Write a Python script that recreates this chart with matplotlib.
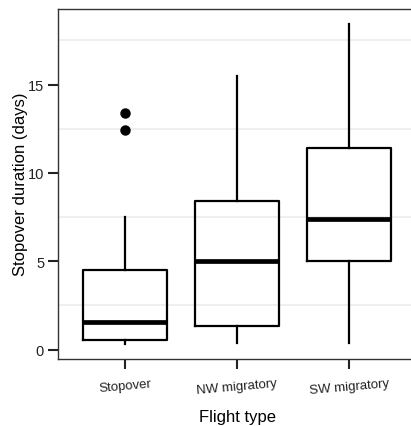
import matplotlib
matplotlib.use('Agg')
from matplotlib import pyplot as plt

plt.rcParams['font.family'] = ['Liberation Sans', 'DejaVu Sans']

categories = ['Stopover', 'NW migratory', 'SW migratory']
whisker_low = [0.32, 0.36, 0.36]
q1 = [0.57, 1.36, 5.0]
median = [1.55, 5.04, 7.41]
q3 = [4.49, 8.40, 11.43]
whisker_high = [7.49, 15.5, 18.43]
outliers = [[12.42, 13.4], [], []]

stats = []
for i, name in enumerate(categories):
    stats.append({
        'label': name,
        'whislo': whisker_low[i],
        'q1': q1[i],
        'med': median[i],
        'q3': q3[i],
        'whishi': whisker_high[i],
        'fliers': outliers[i],
    })

fig = plt.figure(figsize=(4.11, 4.27), dpi=100)
ax = fig.add_axes([58 / 411, 1 - 360 / 427, (416 - 58) / 411, (360 - 9.5) / 427])

ax.bxp(stats, positions=[1, 2, 3], widths=0.75, showcaps=False,
       boxprops=dict(color='black', linewidth=1.6),
       whiskerprops=dict(color='black', linewidth=1.6),
       medianprops=dict(color='black', linewidth=3.4, solid_capstyle='butt'),
       flierprops=dict(marker='o', markerfacecolor='black', markeredgecolor='black', markersize=6.5))

ax.set_xlim(0.4, 3.6)
ax.set_ylim(-0.53, 19.3)
ax.set_yticks([0, 5, 10, 15])
ax.set_yticks([2.5, 7.5, 12.5, 17.5], minor=True)
ax.tick_params(axis='y', which='minor', length=0)
ax.grid(True, which='minor', axis='y', color='#eeeeee', linewidth=1.3)
ax.set_axisbelow(True)

ax.tick_params(axis='both', which='major', length=7, width=1.5, color='#222222',
               labelsize=9.5, labelcolor='#222222', pad=4)
ax.tick_params(axis='y', labelsize=10.5, pad=3)
ax.tick_params(axis='x', pad=6)
ax.set_xticks([1, 2, 3])
ax.set_xticklabels(categories, rotation=5)

for side in ['left', 'bottom', 'top', 'right']:
    ax.spines[side].set_color('#333333')
    ax.spines[side].set_linewidth(1.0)

ax.set_xlabel('Flight type', fontsize=12, labelpad=9)
ax.set_ylabel('Stopover duration (days)', fontsize=12, labelpad=0)

fig.savefig('out.png', dpi=100)
